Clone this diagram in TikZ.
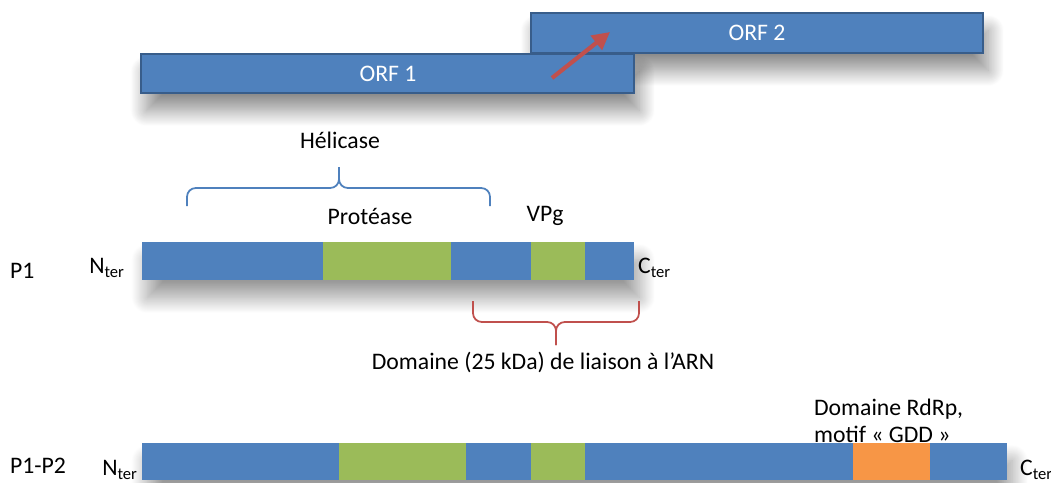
\documentclass[tikz,border=0pt]{standalone}
\usepackage{fontspec}
\setmainfont{Carlito}
\usetikzlibrary{positioning,calc,arrows.meta,shadows.blur}

\definecolor{orfblue}{HTML}{4F81BD}
\definecolor{orfedge}{HTML}{385D8A}
\definecolor{dgreen}{HTML}{9BBB59}
\definecolor{dorange}{HTML}{F79646}
\definecolor{dred}{HTML}{C0504D}

\begin{document}
\begin{tikzpicture}[x=0.02cm,y=-0.02cm,
  font=\fontsize{13.5}{15}\selectfont,
  orf/.style={fill=orfblue,draw=orfedge,line width=0.8pt,
    blur shadow={shadow xshift=3pt,shadow yshift=-10pt,shadow blur radius=9pt,
      shadow blur steps=25,shadow opacity=45}},
  chain/.style={fill=orfblue,
    blur shadow={shadow xshift=3pt,shadow yshift=-10pt,shadow blur radius=9pt,
      shadow blur steps=25,shadow opacity=40}},
  seg/.style={fill=dgreen},
  lbl/.style={inner sep=1pt},
  hbrace/.style={draw=orfblue,line width=1pt,rounded corners=5pt},
  rbrace/.style={draw=dred,line width=1pt,rounded corners=5pt}]
    \useasboundingbox (0,0) rectangle (1051,483);
    % ORF
    \draw[orf] (531,13) rectangle (983,53);
    \draw[orf] (141,54) rectangle (634,93);
    \draw[fill=orfblue,draw=orfedge,line width=0.8pt] (531,13) rectangle (983,53);
    \node[lbl,text=white] (orf1) at (388,74) {ORF 1};
    \node[lbl,text=white] (orf2) at (757,33) {ORF 2};
    \coordinate (fs_from) at (552,78);
    \coordinate (fs_to) at (610,32);
    \draw[-{Triangle[length=10pt,width=10pt]},dred,line width=2.4pt] (fs_from) -- (fs_to);
    %
    % P1
    \fill[chain] (142,242) rectangle (634,280);
    \fill[seg] (323,242) rectangle (451,280);
    \fill[seg] (531,242) rectangle (585,280);
    \node[lbl,anchor=west] (p1) at (8,271) {P1};
    \node[lbl,anchor=east] (p1_n) at (127,268) {N\textsubscript{ter}};
    \node[lbl,anchor=west] (p1_c) at (636,268) {C\textsubscript{ter}};
    \node[lbl] (prot) at (370,216) {Protéase};
    \node[lbl] (vpg) at (545,216) {VPg};
    %
    \draw[hbrace] (187,206) -- (187,188) -- (339,188) -- (339,167);
    \draw[hbrace] (490,206) -- (490,188) -- (339,188) -- (339,167);
    \node[lbl] (hel) at (340,140) {Hélicase};
    %
    \draw[rbrace] (473,301) -- (473,322) -- (556,322) -- (556,345);
    \draw[rbrace] (639,301) -- (639,322) -- (556,322) -- (556,345);
    \node[lbl] (arn) at (543,362) {Domaine (25 kDa) de liaison à l’ARN};
    %
    % P1-P2
    \fill[chain] (142,443) rectangle (1007,480);
    \fill[seg] (339,443) rectangle (466,480);
    \fill[seg] (531,443) rectangle (585,480);
    \fill[dorange] (853,443) rectangle (930,480);
    \node[lbl,anchor=west] (p12) at (8,466) {P1-P2};
    \node[lbl,anchor=east] (p12_n) at (140,470) {N\textsubscript{ter}};
    \node[lbl,anchor=west] (p12_c) at (1018,470) {C\textsubscript{ter}};
    \node[lbl,align=left,anchor=west] (rdrp) at (812,421) {Domaine RdRp,\\motif «~GDD~»};
\end{tikzpicture}
\end{document}
